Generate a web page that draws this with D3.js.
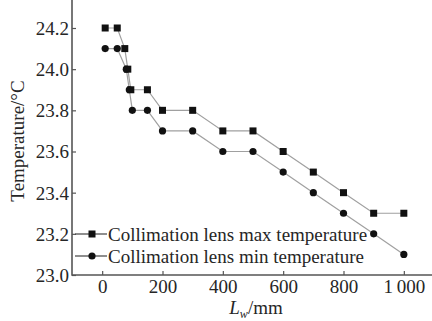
<!DOCTYPE html>
<html>
<head>
<meta charset="utf-8">
<script src="https://cdn.jsdelivr.net/npm/d3@7"></script>
<style>
  html, body { margin: 0; padding: 0; background: #fff; }
  svg { display: block; }
  text { font-family: "Liberation Serif", "Times New Roman", serif; fill: #262626; }
</style>
</head>
<body>
<svg id="chart" width="432" height="321"></svg>
<script>
// Collimation lens temperatures versus distance L_w (mm)
const maxDist = [10, 50, 75, 85, 95, 150, 200, 300, 400, 500, 600, 700, 800, 900, 1000];
const maxTemp = [24.2, 24.2, 24.1, 24.0, 23.9, 23.9, 23.8, 23.8, 23.7, 23.7, 23.6, 23.5, 23.4, 23.3, 23.3];
const minDist = [10, 50, 80, 90, 100, 150, 200, 300, 400, 500, 600, 700, 800, 900, 1000];
const minTemp = [24.1, 24.1, 24.0, 23.9, 23.8, 23.8, 23.7, 23.7, 23.6, 23.6, 23.5, 23.4, 23.3, 23.2, 23.1];

const xTicks = [0, 200, 400, 600, 800, 1000];
const xTickLabels = ["0", "200", "400", "600", "800", "1\u2009000"];
const yTicks = [23.0, 23.2, 23.4, 23.6, 23.8, 24.0, 24.2];
const yTickLabels = ["23.0", "23.2", "23.4", "23.6", "23.8", "24.0", "24.2"];

const seriesNames = ["Collimation lens max temperature", "Collimation lens min temperature"];

const svg = d3.select("#chart");
const left = 72, bottom = 275;

const x = d3.scaleLinear().domain([-100, 1100]).range([left, 434]);
const y = d3.scaleLinear().domain([23.0, 24.2]).range([bottom, 28]);

const axisColor = "#555";
const lineColor = "#a0a0a0";
const markColor = "#111";

// axes (ticks point inward)
const gx = svg.append("g").attr("transform", `translate(0,${bottom})`)
  .call(d3.axisBottom(x).tickValues(xTicks).tickSizeInner(-4).tickSizeOuter(0)
    .tickFormat((d, i) => xTickLabels[i]));
gx.select(".domain").remove();
gx.selectAll(".tick line").attr("stroke", axisColor).attr("stroke-width", 1.2);
gx.selectAll(".tick text").attr("y", 18).attr("dy", 0).attr("font-size", 19)
  .attr("font-family", "Liberation Serif").attr("fill", "#262626");

const gy = svg.append("g").attr("transform", `translate(${left},0)`)
  .call(d3.axisLeft(y).tickValues(yTicks).tickSizeInner(-4).tickSizeOuter(0)
    .tickFormat((d, i) => yTickLabels[i]));
gy.select(".domain").remove();
gy.selectAll(".tick line").attr("stroke", axisColor).attr("stroke-width", 1.2);
gy.selectAll(".tick text").attr("x", -3).attr("dy", "0.34em").attr("font-size", 19)
  .attr("font-family", "Liberation Serif").attr("fill", "#262626");

svg.append("line").attr("x1", left).attr("x2", left).attr("y1", 0).attr("y2", bottom + 0.8)
  .attr("stroke", axisColor).attr("stroke-width", 1.6);
svg.append("line").attr("x1", left).attr("x2", 432).attr("y1", bottom).attr("y2", bottom)
  .attr("stroke", axisColor).attr("stroke-width", 1.6);

// axis titles
svg.append("text")
  .attr("transform", `translate(24,141) rotate(-90)`)
  .attr("text-anchor", "middle").attr("font-size", 19)
  .text("Temperature/\u00B0C");

const xt = svg.append("text").attr("x", 256).attr("y", 314)
  .attr("text-anchor", "middle").attr("font-size", 19);
xt.append("tspan").attr("font-style", "italic").text("L");
xt.append("tspan").attr("font-style", "italic").attr("font-size", 12).attr("dy", 4).text("w");
xt.append("tspan").attr("dy", -4).text("/mm");

// series
const line = d3.line().x(d => x(d[0])).y(d => y(d[1]));
const maxData = maxDist.map((d, i) => [d, maxTemp[i]]);
const minData = minDist.map((d, i) => [d, minTemp[i]]);

[maxData, minData].forEach(data => {
  svg.append("path").datum(data).attr("d", line)
    .attr("fill", "none").attr("stroke", lineColor).attr("stroke-width", 1.2);
});

const sq = 7;
svg.append("g").selectAll("rect").data(maxData).join("rect")
  .attr("x", d => x(d[0]) - sq / 2).attr("y", d => y(d[1]) - sq / 2)
  .attr("width", sq).attr("height", sq).attr("fill", markColor);

svg.append("g").selectAll("circle").data(minData).join("circle")
  .attr("cx", d => x(d[0])).attr("cy", d => y(d[1])).attr("r", 3.6)
  .attr("fill", markColor);

// legend
const legend = svg.append("g");
const rows = [{ y: 234, shape: "square" }, { y: 256, shape: "circle" }];
rows.forEach((r, i) => {
  legend.append("line").attr("x1", 75).attr("x2", 107).attr("y1", r.y).attr("y2", r.y)
    .attr("stroke", "#444").attr("stroke-width", 1.2);
  if (r.shape === "square") {
    legend.append("rect").attr("x", 92 - sq / 2).attr("y", r.y - sq / 2)
      .attr("width", sq).attr("height", sq).attr("fill", markColor);
  } else {
    legend.append("circle").attr("cx", 92).attr("cy", r.y).attr("r", 3.6).attr("fill", markColor);
  }
  legend.append("text").attr("x", 108).attr("y", r.y + 6.5).attr("font-size", 19)
    .text(seriesNames[i]);
});
</script>
</body>
</html>
